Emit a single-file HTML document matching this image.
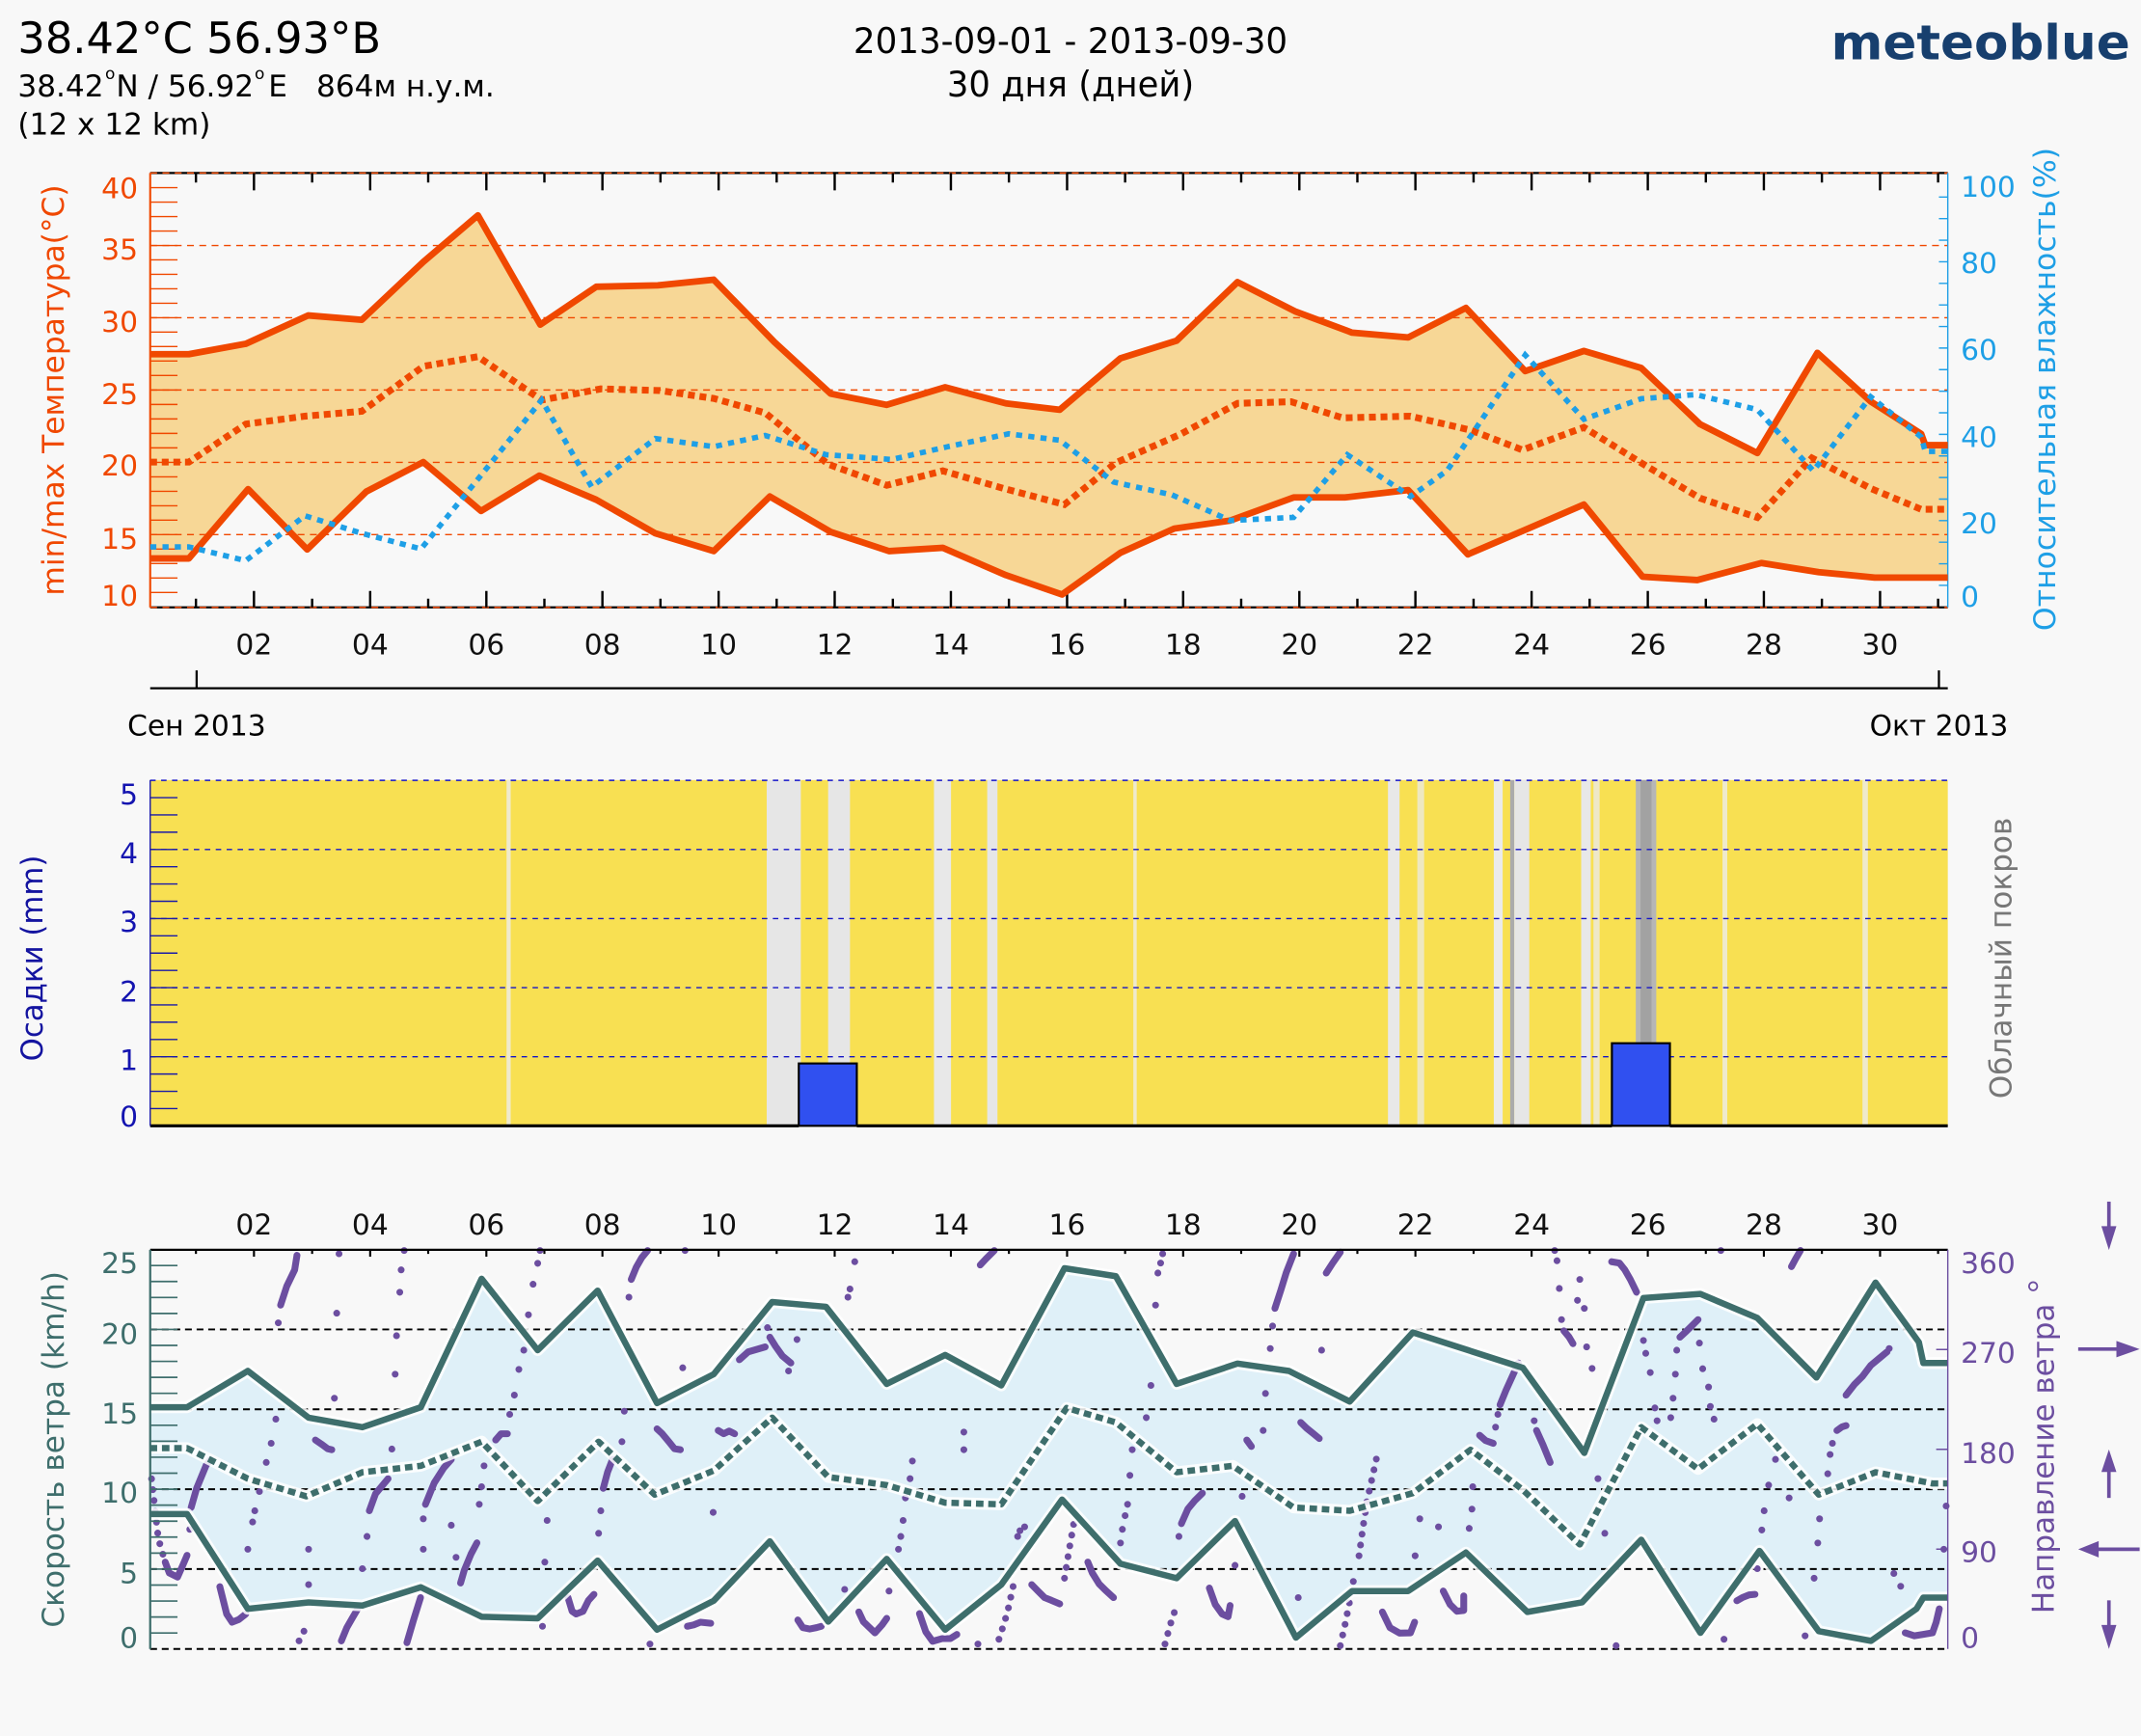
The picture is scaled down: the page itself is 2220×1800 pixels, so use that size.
<!DOCTYPE html>
<html><head><meta charset="utf-8">
<style>
html,body{margin:0;padding:0;background:#f8f8f8;}
svg{display:block;}
text{font-family:"DejaVu Sans","Liberation Sans",sans-serif;}
</style></head><body>
<svg xmlns="http://www.w3.org/2000/svg" width="2220" height="1800" viewBox="0 0 1568 1271.35">
<rect x="0" y="0" width="1568" height="1271.35" fill="#f8f8f8"/>

<!-- HEADER -->
<text x="13" y="38.8" font-size="31.5" fill="#000" textLength="266" lengthAdjust="spacingAndGlyphs">38.42°C 56.93°В</text>
<text x="13" y="70.6" font-size="22" fill="#000">38.42</text>
<text x="77" y="58" font-size="12" fill="#000">o</text>
<text x="85" y="70.6" font-size="22" fill="#000">N / 56.92</text>
<text x="186.5" y="58" font-size="12" fill="#000">o</text>
<text x="196.5" y="70.6" font-size="22" fill="#000">E</text>
<text x="231.7" y="70.6" font-size="22" fill="#000">864м н.у.м.</text>
<text x="13" y="98.4" font-size="22" fill="#000">(12 x 12 km)</text>
<text x="784" y="38.8" font-size="26" text-anchor="middle" fill="#000" textLength="318" lengthAdjust="spacingAndGlyphs">2013-09-01 - 2013-09-30</text>
<text x="784" y="70.6" font-size="26" text-anchor="middle" fill="#000" textLength="181" lengthAdjust="spacingAndGlyphs">30 дня (дней)</text>
<text x="1341" y="43.5" font-size="35" font-weight="bold" fill="#173f6e" textLength="219" lengthAdjust="spacingAndGlyphs">meteoblue</text>

<!-- ============ TOP CHART ============ -->
<polygon fill="#f7d796" points="110,259.4 138.3,259.4 180,251.8 225.7,231 265,234.2 310,191.8 350,157.7 395.7,237.7 436.7,210 481.7,209 522.7,204.8 567.2,250.6 608.3,288.3 649.4,296.5 692.2,283.6 736.7,295.4 776.1,300.1 820.6,262.4 861.7,249.5 906.3,206.6 949.1,228.3 990.2,243.6 1031.3,247.1 1073.6,225.5 1117,271.8 1160,257 1202,269.5 1245,310.6 1287,331.8 1331,258.4 1370,294 1407,317.7 1410,326 1426.5,326 1426.5,423 1373,423 1332,419 1290,412.3 1243,424.8 1203,422.4 1160,369.5 1117,388 1075,406 1031.3,358.9 985,364.3 947.4,364.3 901.1,381.2 860,387.1 820.6,404.8 777.8,435.4 736.7,421.2 690.5,401.2 651.1,403.6 608.3,389.5 563.8,363.6 522.7,403.6 480,390.6 436.7,366 395,348.3 352.3,374.2 310,338.4 268.3,360 225,402.4 181.7,358.2 138.3,409 110,409"/>
<path d="M110 179.8H1426.5M110 232.7H1426.5M110 285.6H1426.5M110 338.6H1426.5M110 391.5H1426.5" stroke="#f04800" stroke-width="1" stroke-dasharray="5 4" fill="none"/>
<path d="M110 126.7H1426.5M110 444.8H1426.5" stroke="#000" stroke-width="1.6" fill="none"/>
<path d="M110 126.7H1426.5M110 444.8H1426.5" stroke="#f04800" stroke-width="1" stroke-dasharray="5 4" fill="none"/>
<path d="M110 126.7V444.8" stroke="#f04800" stroke-width="1.5"/>
<path d="M1426.5 126.7V444.8" stroke="#1e9fe6" stroke-width="1"/>
<path stroke="#f04800" stroke-width="1" fill="none" d="M110 433.9h20M110 423.3h20M110 412.7h20M110 402.1h20M110 391.5h20M110 380.9h20M110 370.4h20M110 359.8h20M110 349.2h20M110 338.6h20M110 328h20M110 317.4h20M110 306.8h20M110 296.2h20M110 285.6h20M110 275h20M110 264.4h20M110 253.8h20M110 243.2h20M110 232.7h20M110 222.1h20M110 211.5h20M110 200.9h20M110 190.3h20M110 179.8h20M110 169.2h20M110 158.6h20M110 148h20M110 137.4h20"/>
<path stroke="#1e9fe6" stroke-width="1" fill="none" d="M1420 428.7h6.5M1420 412.9h6.5M1420 397.1h6.5M1420 381.3h6.5M1420 365.5h6.5M1420 349.7h6.5M1420 333.9h6.5M1420 318.1h6.5M1420 302.3h6.5M1420 286.5h6.5M1420 270.7h6.5M1420 254.9h6.5M1420 239.1h6.5M1420 223.3h6.5M1420 207.5h6.5M1420 191.7h6.5M1420 175.9h6.5M1420 160.1h6.5M1420 144.3h6.5"/>
<path stroke="#000" stroke-width="1.7" fill="none" d="M186 126.7v12.7M271.1 126.7v12.7M356.2 126.7v12.7M441.2 126.7v12.7M526.3 126.7v12.7M611.3 126.7v12.7M696.4 126.7v12.7M781.5 126.7v12.7M866.5 126.7v12.7M951.6 126.7v12.7M1036.6 126.7v12.7M1121.7 126.7v12.7M1206.8 126.7v12.7M1291.8 126.7v12.7M1376.9 126.7v12.7M143.5 126.7v7M228.6 126.7v7M313.6 126.7v7M398.7 126.7v7M483.7 126.7v7M568.8 126.7v7M653.9 126.7v7M738.9 126.7v7M824 126.7v7M909 126.7v7M994.1 126.7v7M1079.2 126.7v7M1164.2 126.7v7M1249.3 126.7v7M1334.3 126.7v7M1419.4 126.7v7M186 444.8v-12M271.1 444.8v-12M356.2 444.8v-12M441.2 444.8v-12M526.3 444.8v-12M611.3 444.8v-12M696.4 444.8v-12M781.5 444.8v-12M866.5 444.8v-12M951.6 444.8v-12M1036.6 444.8v-12M1121.7 444.8v-12M1206.8 444.8v-12M1291.8 444.8v-12M1376.9 444.8v-12M143.5 444.8v-6.4M228.6 444.8v-6.4M313.6 444.8v-6.4M398.7 444.8v-6.4M483.7 444.8v-6.4M568.8 444.8v-6.4M653.9 444.8v-6.4M738.9 444.8v-6.4M824 444.8v-6.4M909 444.8v-6.4M994.1 444.8v-6.4M1079.2 444.8v-6.4M1164.2 444.8v-6.4M1249.3 444.8v-6.4M1334.3 444.8v-6.4M1419.4 444.8v-6.4"/>
<polyline fill="none" stroke="#f04800" stroke-width="4.8" stroke-linejoin="round" points="110,259.4 138.3,259.4 180,251.8 225.7,231 265,234.2 310,191.8 350,157.7 395.7,237.7 436.7,210 481.7,209 522.7,204.8 567.2,250.6 608.3,288.3 649.4,296.5 692.2,283.6 736.7,295.4 776.1,300.1 820.6,262.4 861.7,249.5 906.3,206.6 949.1,228.3 990.2,243.6 1031.3,247.1 1073.6,225.5 1117,271.8 1160,257 1202,269.5 1245,310.6 1287,331.8 1331,258.4 1370,294 1407,317.7 1410,326 1426.5,326"/>
<polyline fill="none" stroke="#f04800" stroke-width="4.8" stroke-linejoin="round" points="110,409 138.3,409 181.7,358.2 225,402.4 268.3,360 310,338.4 352.3,374.2 395,348.3 436.7,366 480,390.6 522.7,403.6 563.8,363.6 608.3,389.5 651.1,403.6 690.5,401.2 736.7,421.2 777.8,435.4 820.6,404.8 860,387.1 901.1,381.2 947.4,364.3 985,364.3 1031.3,358.9 1075,406 1117,388 1160,369.5 1203,422.4 1243,424.8 1290,412.3 1332,419 1373,423 1426.5,423"/>
<polyline fill="none" stroke="#f04800" stroke-width="5" stroke-dasharray="5 3.5" points="110,338.4 138.3,338.4 180,310.6 223.3,304.8 265,301.2 310,268.3 350,261.2 396.7,293 440,284.8 483.3,286 522.7,291.8 560.4,302.4 606.6,340 649.4,355.4 690.5,344.8 735,357.7 779.6,369.5 817.2,338.9 865.2,317.7 906.3,295.4 945.6,294.2 983.3,306 1033,304.8 1077,315 1115,329.5 1160,313 1202,339 1245,364.8 1287,379 1327,335.4 1370,357.7 1407,373 1426.5,373"/>
<polyline fill="none" stroke="#1e9fe6" stroke-width="4" stroke-dasharray="4.5 4.5" points="110,400.5 138.3,400.5 180,410.6 223.3,377.7 265,390.6 308.3,402 348.3,353 396.7,293 433.3,356.5 480,321.2 522.7,327.1 560.4,318.9 604.9,333 653.1,336.5 694.2,327.1 738.7,317.7 776.1,322.4 815.5,353 858.3,362.4 901.1,381.2 947.4,378.9 986.7,333 1033,363.6 1059.7,344.8 1080,315 1117,260 1160,307 1202,292 1242,289 1287,300 1328,344.8 1370,290.6 1407,320 1410,330.6 1426.5,330.6"/>
<g font-size="21" fill="#f04800" text-anchor="end">
<text x="101" y="145">40</text><text x="101" y="190">35</text><text x="101" y="242.9">30</text><text x="101" y="296">25</text><text x="101" y="348.3">20</text><text x="101" y="401.9">15</text><text x="101" y="443.7">10</text>
</g>
<g font-size="21" fill="#1e9fe6">
<text x="1436" y="144.2">100</text><text x="1436" y="200">80</text><text x="1436" y="263.6">60</text><text x="1436" y="327.2">40</text><text x="1436" y="390.7">20</text><text x="1436" y="444.2">0</text>
</g>
<text transform="translate(46.7,285.7) rotate(-90)" text-anchor="middle" font-size="22" fill="#f04800" textLength="301" lengthAdjust="spacingAndGlyphs">min/max Температура(°C)</text>
<text transform="translate(1505,285) rotate(-90)" text-anchor="middle" font-size="22" fill="#1e9fe6" textLength="354" lengthAdjust="spacingAndGlyphs">Относительная влажность(%)</text>
<g font-size="21" fill="#111" text-anchor="middle">
<text x="186" y="479.4">02</text><text x="271.1" y="479.4">04</text><text x="356.2" y="479.4">06</text><text x="441.2" y="479.4">08</text><text x="526.3" y="479.4">10</text><text x="611.3" y="479.4">12</text><text x="696.4" y="479.4">14</text><text x="781.5" y="479.4">16</text><text x="866.5" y="479.4">18</text><text x="951.6" y="479.4">20</text><text x="1036.6" y="479.4">22</text><text x="1121.7" y="479.4">24</text><text x="1206.8" y="479.4">26</text><text x="1291.8" y="479.4">28</text><text x="1376.9" y="479.4">30</text>
</g>
<path d="M110 504H1426.5M144 504V491M1420 504V491" stroke="#000" stroke-width="1.6" fill="none"/>
<text x="144" y="538.4" font-size="21" text-anchor="middle" fill="#000">Сен 2013</text>
<text x="1420" y="538.4" font-size="21" text-anchor="middle" fill="#000">Окт 2013</text>

<!-- ============ MIDDLE CHART ============ -->
<rect x="110" y="571.3" width="1316.5" height="253.2" fill="#f8e052"/>
<g>
<rect x="371" y="571.3" width="3" height="253.2" fill="#efeacc"/>
<rect x="561.5" y="571.3" width="25" height="253.2" fill="#e6e6e6"/>
<rect x="606.5" y="571.3" width="16" height="253.2" fill="#e6e6e6"/>
<rect x="684" y="571.3" width="12.5" height="253.2" fill="#e8e8e8"/>
<rect x="723" y="571.3" width="7.5" height="253.2" fill="#e6e6e6"/>
<rect x="830" y="571.3" width="2.5" height="253.2" fill="#efeacc"/>
<rect x="1016.5" y="571.3" width="8.5" height="253.2" fill="#e8e8e8"/>
<rect x="1038" y="571.3" width="5" height="253.2" fill="#eee8c0"/>
<rect x="1094" y="571.3" width="6.5" height="253.2" fill="#ebebeb"/>
<rect x="1106" y="571.3" width="3" height="253.2" fill="#ababab"/>
<rect x="1109" y="571.3" width="11" height="253.2" fill="#e6e6e6"/>
<rect x="1158" y="571.3" width="7" height="253.2" fill="#e8e8e8"/>
<rect x="1167" y="571.3" width="4.5" height="253.2" fill="#eee8c8"/>
<rect x="1198" y="571.3" width="15" height="253.2" fill="#b6b6b6"/>
<rect x="1201.5" y="571.3" width="8" height="253.2" fill="#a2a2a2"/>
<rect x="1261.5" y="571.3" width="3.5" height="253.2" fill="#efeacc"/>
<rect x="1364" y="571.3" width="4" height="253.2" fill="#efeacc"/>
</g>
<path d="M110 571.5H1426.5M110 622.1H1426.5M110 672.7H1426.5M110 723.3H1426.5M110 773.9H1426.5" stroke="#1414c8" stroke-width="1" stroke-dasharray="4 4" fill="none"/>
<rect x="585" y="778.8" width="42.5" height="45.7" fill="#3050f0" stroke="#000" stroke-width="1.5"/>
<rect x="1180.5" y="764" width="42.5" height="60.5" fill="#3050f0" stroke="#000" stroke-width="1.5"/>
<path d="M110 824.5H585M627.5 824.5H1180.5M1223 824.5H1426.5" stroke="#000" stroke-width="2.2" fill="none"/>
<path d="M110 571.3V824.5" stroke="#1a1aa8" stroke-width="1"/>
<path stroke="#1a1aa8" stroke-width="1" fill="none" d="M110 811.85h20M110 799.2h20M110 786.55h20M110 773.9h20M110 761.25h20M110 748.6h20M110 735.95h20M110 723.3h20M110 710.65h20M110 698h20M110 685.35h20M110 672.7h20M110 660.05h20M110 647.4h20M110 634.75h20M110 622.1h20M110 609.45h20M110 596.8h20M110 584.15h20"/>
<g font-size="21" fill="#1414b0" text-anchor="end">
<text x="101" y="589.2">5</text><text x="101" y="632">4</text><text x="101" y="682.2">3</text><text x="101" y="733.6">2</text><text x="101" y="783.7">1</text><text x="101" y="825">0</text>
</g>
<text transform="translate(31,701.7) rotate(-90)" text-anchor="middle" font-size="22" fill="#1414a0" textLength="151" lengthAdjust="spacingAndGlyphs">Осадки (mm)</text>
<text transform="translate(1473,701.7) rotate(-90)" text-anchor="middle" font-size="22" fill="#777" textLength="206" lengthAdjust="spacingAndGlyphs">Облачный покров</text>

<!-- ============ BOTTOM CHART ============ -->
<g font-size="21" fill="#111" text-anchor="middle">
<text x="186" y="904.2">02</text><text x="271.1" y="904.2">04</text><text x="356.2" y="904.2">06</text><text x="441.2" y="904.2">08</text><text x="526.3" y="904.2">10</text><text x="611.3" y="904.2">12</text><text x="696.4" y="904.2">14</text><text x="781.5" y="904.2">16</text><text x="866.5" y="904.2">18</text><text x="951.6" y="904.2">20</text><text x="1036.6" y="904.2">22</text><text x="1121.7" y="904.2">24</text><text x="1206.8" y="904.2">26</text><text x="1291.8" y="904.2">28</text><text x="1376.9" y="904.2">30</text>
</g>
<polygon fill="#dff0f8" points="109.6,1030.6 137,1030.6 181.5,1004 226,1038.2 265.4,1045.2 308.2,1030.6 352.7,936.5 393.8,988.8 437.7,945.2 481.2,1027.6 522.7,1006.4 565.5,953.5 604.9,957 649.4,1013.5 692.2,992.3 733.3,1014.6 779.6,928.8 817.2,934.6 861.7,1013.5 906.3,998.6 944,1004 988.5,1026.4 1034.7,975.8 1115.3,1001.7 1160.3,1064 1203.6,950.6 1245.3,947.6 1287,965.2 1330.3,1008.8 1373.6,939.3 1405.3,982.9 1408.6,998.2 1426.5,998.2 1426.5,1170 1408.6,1170 1403.6,1178.2 1370.3,1201.7 1332,1194.6 1288.6,1135.8 1245.3,1195.8 1202,1127.6 1158.6,1173.5 1118.6,1180.5 1073.6,1137 1031.3,1165.2 990.2,1165.2 949.1,1199.3 904.5,1113.9 861.7,1155.8 820.6,1145.2 777.8,1098.2 733.3,1160.5 692.2,1193.5 649.4,1141.7 606.6,1187.6 563.8,1128.8 522.7,1172.3 481.2,1193.5 437.7,1142.9 393.8,1185.2 352.7,1184 308.2,1162.4 265.4,1175.8 226,1173.5 181.5,1178.2 137,1108.8 109.6,1108.8"/>
<path d="M110 973.6H1426.5M110 1032.1H1426.5M110 1090.6H1426.5M110 1149.1H1426.5M110 1207.6H1426.5" stroke="#000" stroke-width="1.4" stroke-dasharray="5 3.5" fill="none"/>

<g stroke="#6c4ea0" fill="none" stroke-linecap="round" stroke-linejoin="round" stroke-width="5">
<polyline points="121,1144 124,1152 130,1155 134,1146 137,1139"/>
<polyline points="140,1104 144,1090 151,1073 154,1069"/>
<polyline points="161,1162 164,1174 166,1182 170,1188 175,1186 180,1182"/>
<polyline points="205.5,955.8 210,942 215.8,930 217.5,919.3"/>
<polyline points="231,1054.6 236,1058 240,1061 243,1061.7"/>
<polyline points="250,1201.7 254,1192 258,1185 262,1178.2"/>
<polyline points="270.5,1106.4 275,1094 280,1088 284.2,1082.9"/>
<polyline points="298,1203 303,1186 308,1170"/>
<polyline points="311.6,1101.7 318,1086 325,1075 330.5,1068.8"/>
<polyline points="337.3,1159.3 340,1150 345,1138 349.3,1129.9"/>
<polyline points="363,1054.6 367,1050 371.6,1050"/>
<polyline points="416,1170 419,1180 422,1182 427,1180 431,1172 435,1167.6"/>
<polyline points="441.8,1090 445,1078 448.6,1068.8"/>
<polyline points="462.3,937 466,928 470,921 474.3,915.8"/>
<polyline points="481.2,1046.4 485,1050 490,1056 494,1061 498.3,1061.7"/>
<polyline points="503.4,1191 508,1190 513,1188 520.5,1188.8"/>
<polyline points="526,1047.6 530,1050 534,1048 538,1050"/>
<polyline points="541.5,995.8 548,990 555,988 560.4,986.4"/>
<polyline points="563.8,979.3 568,986 573,993 579.2,998.2"/>
<polyline points="584.3,1186.4 588,1192 593,1193 598,1192 601.5,1191"/>
<polyline points="629,1180.5 632.3,1187.6 640.8,1195.8 646,1190 649.4,1185.2"/>
<polyline points="673.4,1181.7 678,1195 683,1202 690,1200 696,1200 700.8,1197"/>
<polyline points="717.9,926.4 722,922 728.2,915.8"/>
<polyline points="755.6,1160.5 760,1165 765,1170 770,1172 776.1,1174.6"/>
<polyline points="796.7,1144 800,1152 805,1160 810,1165 815.5,1170"/>
<polyline points="865.2,1115.8 870,1105 875,1099 880.6,1093.5"/>
<polyline points="885.7,1163 890,1175 895,1182 899.4,1184 900.9,1175.8"/>
<polyline points="913.1,1054.6 916.5,1059.3"/>
<polyline points="933.7,958.2 938,945 942,932 947.4,918.2"/>
<polyline points="952.6,1041.7 957,1046 962,1050 966.2,1053.5"/>
<polyline points="971.3,932.3 976,925 981.6,917"/>
<polyline points="1012.4,1180.5 1018,1192 1025,1196 1033,1195.8 1036,1188"/>
<polyline points="1057,1165.2 1062,1175 1067,1180 1072,1179.4 1072,1168.8"/>
<polyline points="1083.6,1051.1 1088,1055 1093.6,1057"/>
<polyline points="1098.6,1028.8 1103,1018 1108,1007 1112,998.2"/>
<polyline points="1125.3,1047.6 1130,1058 1135.3,1071"/>
<polyline points="1145.3,974.6 1149,979 1152,984"/>
<polyline points="1180.3,924 1186,925 1190,930 1194,937 1198.6,946.4"/>
<polyline points="1230.3,979.3 1235,975 1240,970 1243.6,966.4"/>
<polyline points="1272,1172.3 1276,1170 1281,1168 1285.3,1167.6"/>
<polyline points="1312,927.6 1315,922 1318.6,915.8"/>
<polyline points="1345.3,1047.6 1349,1045 1352,1044"/>
<polyline points="1352,1021.7 1358,1014 1364,1008 1370,1000 1376,995 1382,990"/>
<polyline points="1395.3,1195.8 1402,1198 1408,1197 1415.3,1195.8 1418,1188 1420.3,1178.2"/>
</g>
<g stroke="#6c4ea0" fill="none" stroke-linecap="round" stroke-width="5" stroke-dasharray="0 8">
<polyline points="111,1083 116,1127 121,1144"/>
<polyline points="731.6,1200.5 735,1190 738,1180 742,1161.7"/>
<polyline points="779.6,1155.8 783,1135 786.4,1115.8"/>
<polyline points="853.2,1204 857,1190 861.7,1175.8"/>
<polyline points="981.6,1205.2 985,1190 988,1175 992,1153.5"/>
<polyline points="995.3,1139.4 998,1120 1001,1100 1005,1082 1009,1064"/>
</g>
<path stroke="#6c4ea0" fill="none" stroke-linecap="round" stroke-width="5" d="M139 1120h0M181.5 1134.6h0M185 1114.6h0M186.6 1106.4h0M190 1092.3h0M195 1071h0M198.6 1057h0M202 1039.3h0M203.8 968.8h0M219 1201.7h0M222.6 1194.6h0M226 1160.5h0M226 1134.6h0M244.9 1024h0M246.6 961.7h0M248.3 918.2h0M265.4 1148.8h0M268.8 1125.2h0M287 1061.2h0M289.4 1006.4h0M290.4 978.2h0M292.8 946.4h0M293.8 930h0M296 915.8h0M310 1134.6h0M310 1112.3h0M330.5 1117h0M334 1140.5h0M351 1101.7h0M352.7 1088.8h0M354.5 1073.5h0M373.3 1035.8h0M376.7 1021.7h0M380 1002.9h0M383.6 988.8h0M387 962.9h0M390.4 940.5h0M393.8 925.2h0M395.5 915.8h0M397.3 1191h0M399 1144h0M400.7 1113.5h0M438.4 1122.9h0M440 1106.4h0M455.5 1055.8h0M457.2 1033.5h0M460.6 950h0M476 1204h0M500 1001.7h0M501.7 915.8h0M522.3 1107.6h0M562.1 972.3h0M577.5 1004h0M583.7 981h0M618.6 1164h0M621 950h0M622.5 944h0M626 924h0M651.1 1165.2h0M658 1134.6h0M659.7 1125.2h0M661.4 1113.5h0M663.1 1097h0M666.5 1082.9h0M668.2 1070h0M705.9 1048.8h0M705.9 1061.7h0M716.2 1204h0M745.3 1125.2h0M747 1121h0M750.4 1118.2h0M820.6 1130h0M822 1120h0M824 1110h0M825.8 1101.7h0M827.5 1080.5h0M829.2 1061.7h0M839.5 1038.2h0M842.9 1014.6h0M846.3 955.8h0M848 932.3h0M850 925h0M851.5 918.2h0M863.4 1125.2h0M904.5 1146.4h0M909.7 1095.8h0M925.1 1047.6h0M926.8 1020.5h0M930.3 987.6h0M932 971.1h0M950.8 1170h0M967.9 988.8h0M1036.4 1139.4h0M1039.8 1112.3h0M1053.5 1118.2h0M1076 1119.3h0M1078 1105.2h0M1078.6 1088.8h0M1095.3 1045.2h0M1097 1035.8h0M1123.6 1040.5h0M1138.6 915.8h0M1140.3 923.3h0M1142 943.6h0M1143.6 966.4h0M1157 937h0M1155.3 952.3h0M1160.3 958.2h0M1162 986.4h0M1166 1002.2h0M1170.3 1082.9h0M1175.3 1122.9h0M1183.6 1205.2h0M1203.6 981.7h0M1205.3 991.1h0M1208.6 1005.2h0M1212 1031.1h0M1213.6 1040.5h0M1223.6 1038.2h0M1225.3 1024h0M1227 1006.4h0M1228 988.8h0M1244.6 983.6h0M1247 1002.4h0M1251.3 1015.8h0M1252.6 1030h0M1255.3 1039.3h0M1260.3 915.8h0M1262.6 1200.5h0M1287 1148.8h0M1290.3 1120.5h0M1292 1106.4h0M1295.3 1087.6h0M1300.3 1068.8h0M1310.3 1097h0M1322 1198h0M1328.6 1155.8h0M1331.3 1130h0M1332.6 1112.3h0M1338.6 1079.3h0M1340.3 1065.2h0M1342 1057h0M1383.6 987.6h0M1387 1152.3h0M1392 1161.7h0M1423.6 1134.6h0M1425.3 1102.9h0"/>

<g fill="none" stroke-linejoin="round">
<polyline stroke="#ffffff" stroke-opacity="0.85" stroke-width="8.6" points="109.6,1030.6 137,1030.6 181.5,1004 226,1038.2 265.4,1045.2 308.2,1030.6 352.7,936.5 393.8,988.8 437.7,945.2 481.2,1027.6 522.7,1006.4 565.5,953.5 604.9,957 649.4,1013.5 692.2,992.3 733.3,1014.6 779.6,928.8 817.2,934.6 861.7,1013.5 906.3,998.6 944,1004 988.5,1026.4 1034.7,975.8 1115.3,1001.7 1160.3,1064 1203.6,950.6 1245.3,947.6 1287,965.2 1330.3,1008.8 1373.6,939.3 1405.3,982.9 1408.6,998.2 1426.5,998.2"/>
<polyline stroke="#ffffff" stroke-opacity="0.85" stroke-width="8.6" points="109.6,1108.8 137,1108.8 181.5,1178.2 226,1173.5 265.4,1175.8 308.2,1162.4 352.7,1184 393.8,1185.2 437.7,1142.9 481.2,1193.5 522.7,1172.3 563.8,1128.8 606.6,1187.6 649.4,1141.7 692.2,1193.5 733.3,1160.5 777.8,1098.2 820.6,1145.2 861.7,1155.8 904.5,1113.9 949.1,1199.3 990.2,1165.2 1031.3,1165.2 1073.6,1137 1118.6,1180.5 1158.6,1173.5 1202,1127.6 1245.3,1195.8 1288.6,1135.8 1332,1194.6 1370.3,1201.7 1403.6,1178.2 1408.6,1170 1426.5,1170"/>
<polyline stroke="#ffffff" stroke-opacity="0.85" stroke-width="8.6" points="109.6,1060.5 137,1060.5 181.5,1082.9 224.3,1095.8 265.4,1078.2 308.2,1073.5 352.7,1055.8 393.8,1099.3 438.4,1055.8 479.5,1094.6 522.7,1077 565.5,1038.2 606.6,1081.7 649.4,1087.6 692.2,1100.5 733.3,1101.7 781.2,1031.1 817.2,1041.7 861.7,1078.2 902.8,1073.5 947.4,1104 988.5,1106.4 1034.7,1093.5 1077,1061.7 1115.3,1091.1 1157,1131.1 1202,1045.2 1243.6,1075.8 1287,1042.9 1332,1094.6 1373.6,1078.2 1415.3,1086.4 1426.5,1086.4"/>
<polyline stroke="#3e6e6c" stroke-width="4.6" points="109.6,1030.6 137,1030.6 181.5,1004 226,1038.2 265.4,1045.2 308.2,1030.6 352.7,936.5 393.8,988.8 437.7,945.2 481.2,1027.6 522.7,1006.4 565.5,953.5 604.9,957 649.4,1013.5 692.2,992.3 733.3,1014.6 779.6,928.8 817.2,934.6 861.7,1013.5 906.3,998.6 944,1004 988.5,1026.4 1034.7,975.8 1115.3,1001.7 1160.3,1064 1203.6,950.6 1245.3,947.6 1287,965.2 1330.3,1008.8 1373.6,939.3 1405.3,982.9 1408.6,998.2 1426.5,998.2"/>
<polyline stroke="#3e6e6c" stroke-width="4.6" points="109.6,1108.8 137,1108.8 181.5,1178.2 226,1173.5 265.4,1175.8 308.2,1162.4 352.7,1184 393.8,1185.2 437.7,1142.9 481.2,1193.5 522.7,1172.3 563.8,1128.8 606.6,1187.6 649.4,1141.7 692.2,1193.5 733.3,1160.5 777.8,1098.2 820.6,1145.2 861.7,1155.8 904.5,1113.9 949.1,1199.3 990.2,1165.2 1031.3,1165.2 1073.6,1137 1118.6,1180.5 1158.6,1173.5 1202,1127.6 1245.3,1195.8 1288.6,1135.8 1332,1194.6 1370.3,1201.7 1403.6,1178.2 1408.6,1170 1426.5,1170"/>
<polyline stroke="#3e6e6c" stroke-width="4.6" stroke-dasharray="5.5 3.5" points="109.6,1060.5 137,1060.5 181.5,1082.9 224.3,1095.8 265.4,1078.2 308.2,1073.5 352.7,1055.8 393.8,1099.3 438.4,1055.8 479.5,1094.6 522.7,1077 565.5,1038.2 606.6,1081.7 649.4,1087.6 692.2,1100.5 733.3,1101.7 781.2,1031.1 817.2,1041.7 861.7,1078.2 902.8,1073.5 947.4,1104 988.5,1106.4 1034.7,1093.5 1077,1061.7 1115.3,1091.1 1157,1131.1 1202,1045.2 1243.6,1075.8 1287,1042.9 1332,1094.6 1373.6,1078.2 1415.3,1086.4 1426.5,1086.4"/>
</g>
<path d="M110 915.3H1426.5" stroke="#000" stroke-width="1.6"/>
<path d="M110 915.3V1207.6" stroke="#3e6e6c" stroke-width="1.6"/>
<path d="M1426.5 915.3V1207.6" stroke="#6c4ea0" stroke-width="1"/>
<path d="M1418 988.3h8.5M1418 1061.4h8.5M1418 1134.5h8.5" stroke="#6c4ea0" stroke-width="1"/>
<path stroke="#3e6e6c" stroke-width="1.2" fill="none" d="M110 1195.9h20M110 1184.2h20M110 1172.5h20M110 1160.8h20M110 1149.1h20M110 1137.4h20M110 1125.7h20M110 1114h20M110 1102.3h20M110 1090.6h20M110 1078.9h20M110 1067.2h20M110 1055.5h20M110 1043.8h20M110 1032.1h20M110 1020.4h20M110 1008.7h20M110 997h20M110 985.3h20M110 973.6h20M110 961.9h20M110 950.2h20M110 938.5h20M110 926.8h20"/>
<path stroke="#000" stroke-width="1.5" fill="none" d="M186 915.3v5M271.1 915.3v5M356.2 915.3v5M441.2 915.3v5M526.3 915.3v5M611.3 915.3v5M696.4 915.3v5M781.5 915.3v5M866.5 915.3v5M951.6 915.3v5M1036.6 915.3v5M1121.7 915.3v5M1206.8 915.3v5M1291.8 915.3v5M1376.9 915.3v5M143.5 915.3v3M228.6 915.3v3M313.6 915.3v3M398.7 915.3v3M483.7 915.3v3M568.8 915.3v3M653.9 915.3v3M738.9 915.3v3M824 915.3v3M909 915.3v3M994.1 915.3v3M1079.2 915.3v3M1164.2 915.3v3M1249.3 915.3v3M1334.3 915.3v3M1419.4 915.3v3"/>
<g font-size="21" fill="#3e6e6c" text-anchor="end">
<text x="101" y="932.2">25</text><text x="101" y="984.4">20</text><text x="101" y="1042.6">15</text><text x="101" y="1100.5">10</text><text x="101" y="1159.3">5</text><text x="101" y="1206.9">0</text>
</g>
<g font-size="21" fill="#6c4ea0">
<text x="1436" y="932.2">360</text><text x="1436" y="998.1">270</text><text x="1436" y="1071.6">180</text><text x="1436" y="1144">90</text><text x="1436" y="1206.9">0</text>
</g>
<text transform="translate(46.5,1061.5) rotate(-90)" text-anchor="middle" font-size="22" fill="#3e6e6c" textLength="261" lengthAdjust="spacingAndGlyphs">Скорость ветра (km/h)</text>
<text transform="translate(1504,1068.2) rotate(-90)" text-anchor="middle" font-size="22" fill="#6c4ea0" textLength="227" lengthAdjust="spacingAndGlyphs">Направление ветра</text>
<circle cx="1489" cy="942" r="3" fill="none" stroke="#6c4ea0" stroke-width="1.3"/>
<g fill="#6c4ea0" stroke="#6c4ea0" stroke-width="2.6">
<path d="M1544.5 880V900" fill="none"/>
<polygon stroke="none" points="1539,898 1550,898 1544.5,915.5"/>
<path d="M1522 988H1552" fill="none"/>
<polygon stroke="none" points="1550,982 1550,994 1567,988"/>
<path d="M1544.5 1076V1097" fill="none"/>
<polygon stroke="none" points="1539,1078 1550,1078 1544.5,1061.5"/>
<path d="M1535 1134.6H1567" fill="none"/>
<polygon stroke="none" points="1537,1128.6 1537,1140.6 1522,1134.6"/>
<path d="M1544.5 1172V1192" fill="none"/>
<polygon stroke="none" points="1539,1190 1550,1190 1544.5,1207.6"/>
</g>
</svg>
</body></html>
